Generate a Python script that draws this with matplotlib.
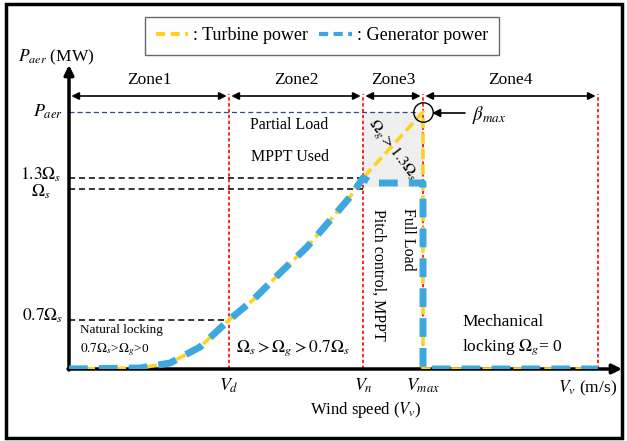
import matplotlib
matplotlib.use("Agg")
import matplotlib.pyplot as plt
from matplotlib.lines import Line2D
from matplotlib.patches import Rectangle

plt.rcParams['font.family'] = ['Liberation Serif', 'DejaVu Serif']
plt.rcParams['mathtext.fontset'] = 'stix'

# ---------------- data (schematic units) ----------------
v_marks = [160, 294, 354, 529]          # V_d, V_n, V_max, end of zone 4
v_labels = ['$V_d$', '$V_n$', '$V_{max}$']
zone_names = ['Zone1', 'Zone2', 'Zone3', 'Zone4']

p_aer = 257
p_levels = [191, 180, 49]               # 1.3 Omega_s, Omega_s, 0.7 Omega_s
p_level_labels = ['$1.3\\Omega_s$', '$\\Omega_s$', '$0.7\\Omega_s$']

turb_v = [0, 71, 101, 131, 160, 184, 211, 238, 264, 281, 294, 354, 354, 529]
turb_p = [0, 1, 6, 22, 49, 69, 96, 122, 152, 172, 191, 257, 0, 0]

gen_v = [0, 71, 101, 131, 160, 184, 211, 238, 264, 281, 294, 303, 354, 354, 529]
gen_p = [0, 1, 6, 22, 49, 69, 96, 122, 152, 172, 191, 186, 186, 0, 0]

yellow = '#FFD21F'
blue = '#3DA8E0'

# ---------------- figure ----------------
W, H = 627, 441
fig = plt.figure(figsize=(W / 100, H / 100), dpi=100)
ax = fig.add_axes([69 / W, (H - 369) / H, 551 / W, 304 / H])
ax.set_xlim(0, 551)
ax.set_ylim(0, 304)
ax.axis('off')

# border round the whole picture
fig.patches.append(Rectangle((6 / W, 1 - 438 / H), 616 / W, 434 / H,
                             transform=fig.transFigure, fill=False, lw=2.5, color='k'))

# grey zone 3 area
ax.fill_between([v_marks[1], v_marks[2]], 182, p_aer, color='#efefef', lw=0, zorder=0)

# axes with arrows
ax.annotate('', xy=(0, 304), xytext=(0, -1), arrowprops=dict(arrowstyle='-|>', lw=2.5, color='k', mutation_scale=14, shrinkA=0, shrinkB=0), annotation_clip=False)
ax.annotate('', xy=(553, 0), xytext=(-1, 0), arrowprops=dict(arrowstyle='-|>', lw=2.5, color='k', mutation_scale=14, shrinkA=0, shrinkB=0), annotation_clip=False)

# red dotted zone limits
for v in v_marks:
    ax.plot([v, v], [0, 275], color='red', ls=(0, (2, 1.5)), lw=1.2, zorder=1)

# zone arrows and names
edges = [0] + v_marks
for i in range(4):
    ax.annotate('', xy=(edges[i + 1] - 1, 273), xytext=(edges[i] + 1, 273),
                arrowprops=dict(arrowstyle='<|-|>', lw=1.2, color='k', mutation_scale=11, shrinkA=1, shrinkB=1))
    ax.text((edges[i] + edges[i + 1]) / 2, 289, zone_names[i], ha='center', va='center', fontsize=12.5)

# horizontal reference lines
ax.plot([0, v_marks[2] - 5], [p_aer, p_aer], color='#2E4A8C', ls=(0, (4, 2.5)), lw=0.9)
ax.plot([0, v_marks[1]], [p_levels[0]] * 2, color='k', ls=(0, (4, 2.5)), lw=1.1)
ax.plot([0, v_marks[1]], [p_levels[1]] * 2, color='k', ls=(0, (4, 2.5)), lw=1.1)
ax.plot([0, v_marks[0]], [p_levels[2]] * 2, color='k', ls=(0, (4, 2.5)), lw=1.1)

# power curves
turb_line, = ax.plot(turb_v, turb_p, color=yellow, lw=2.6, dashes=(2.9, 1.4), zorder=3)
gen_line, = ax.plot(gen_v, gen_p, color=blue, lw=5, dashes=(2.7, 1.6), zorder=4)

# y labels
ax.text(-6, p_aer, '$P_{aer}$', ha='right', va='center', fontsize=13)
ax.text(-28, p_levels[0] + 3, p_level_labels[0], ha='center', va='center', fontsize=12.5)
ax.text(-28, p_levels[1] - 3, p_level_labels[1], ha='center', va='center', fontsize=12.5)
ax.text(-6, p_levels[2] + 4, p_level_labels[2], ha='right', va='center', fontsize=12.5)
ax.text(-51, 312, '$P_{aer}$ (MW)', ha='left', va='center', fontsize=12.5)

# x labels
for v, lab in zip(v_marks[:3], v_labels):
    ax.text(v, -17, lab, ha='center', va='center', fontsize=13)
ax.text(519, -19, '$V_v$ (m/s)', ha='center', va='center', fontsize=12.5)
ax.text(297, -41, 'Wind speed ($V_v$)', ha='center', va='center', fontsize=12)

# beta max marker
ax.plot(v_marks[2], p_aer, 'o', mfc='none', mec='k', ms=14, mew=1, zorder=5)
ax.annotate('', xy=(363, 256), xytext=(396, 256),
            arrowprops=dict(arrowstyle='-|>', lw=1.2, color='k', mutation_scale=12, shrinkA=0, shrinkB=0))
ax.text(403, 254, '$\\beta_{max}$', ha='left', va='center', fontsize=13.5)

# zone annotations
ax.text(220, 244, 'Partial Load', ha='center', va='center', fontsize=11.5)
ax.text(221, 212, 'MPPT Used', ha='center', va='center', fontsize=11.5)
ax.text(323, 219, '$\\Omega_g > 1.3\\Omega_s$', ha='center', va='center', fontsize=11.5, rotation=-53)
ax.text(309, 94, 'Pitch control, MPPT', ha='center', va='center', fontsize=11.5, rotation=-90)
ax.text(339, 130, 'Full Load', ha='center', va='center', fontsize=11.5, rotation=-90)
ax.text(11, 39, 'Natural locking', ha='left', va='center', fontsize=9.5)
ax.text(11, 19, '$0.7\\Omega_s$>$\\Omega_g$>0', ha='left', va='center', fontsize=9.5)
ax.text(224, 21, '$\\Omega_s > \\Omega_g > 0.7\\Omega_s$', ha='center', va='center', fontsize=12.5)
ax.text(393, 47, 'Mechanical', ha='left', va='center', fontsize=12.5)
ax.text(393, 22, 'locking $\\Omega_g$= 0', ha='left', va='center', fontsize=12.5)

# legend
h1 = Line2D([], [], color=yellow, lw=3, dashes=(2.2, 1.3))
h2 = Line2D([], [], color=blue, lw=3, dashes=(2.2, 1.3))
leg = fig.legend([h1, h2], [': Turbine power', ': Generator power'], ncol=2, loc='center',
                 bbox_to_anchor=(322 / W, 1 - 36 / H), fontsize=13, frameon=True, fancybox=False,
                 edgecolor='#444444', handlelength=1.8, handletextpad=0.3, columnspacing=0.6,
                 borderpad=0.6)
leg.get_frame().set_linewidth(1.0)

fig.savefig('out.png', dpi=100)
